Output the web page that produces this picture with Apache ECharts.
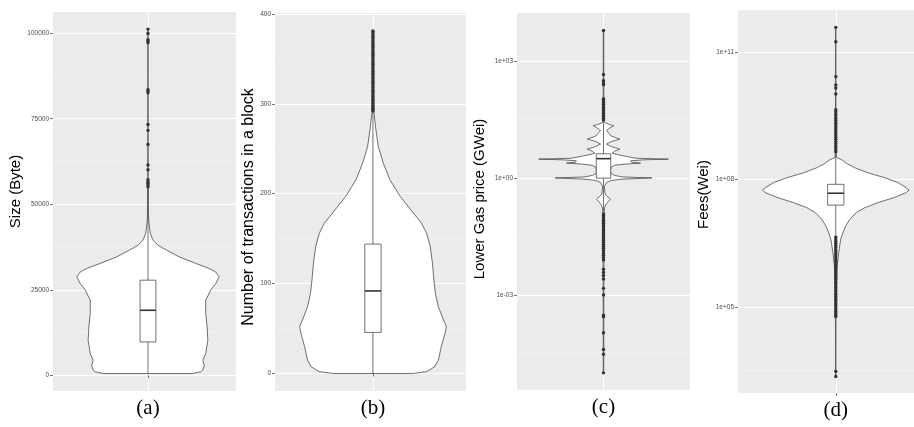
<!DOCTYPE html>
<html>
<head>
<meta charset="utf-8">
<script src="https://cdn.jsdelivr.net/npm/echarts@6/dist/echarts.min.js"></script>
<style>
  html, body { margin: 0; background: #fff; }
  #chart { width: 914px; height: 427px; }
</style>
</head>
<body>
<div id="chart"></div>
<script>
// (a) block size, bytes. violin profile = [value, relative half width]
const sizeViolin = [[500,0.62],[1000,0.74],[1500,0.77],[2900,0.79],[4400,0.77],[6300,0.81],[10200,0.84],[14100,0.83],[18100,0.81],[21900,0.81],[24900,0.88],[26800,0.95],[28800,1.0],[30200,0.95],[31200,0.86],[32700,0.67],[34600,0.44],[36600,0.26],[38000,0.14],[39500,0.07],[41500,0.032],[44400,0.014],[47300,0.005],[55000,0.002],[101200,0.001]]
// [lower whisker, q1, median, q3, upper whisker]
const sizeBox = [500, 9750, 19000, 27800, 54800]
const sizeOutliers = [55100, 55600, 56100, 56600, 57200, 60100, 61500, 67500, 71600, 73300, 82600, 83100, 83500, 97200, 97800, 98100, 99900, 101200]
const sizeTicks = [0, 25000, 50000, 75000, 100000]
const sizeMinor = [12500, 37500, 62500, 87500]

// (b) transactions per block
const txViolin = [[0,0.54],[2,0.73],[7.4,0.84],[14.8,0.89],[29.7,0.93],[44.6,0.98],[52,1.0],[59.5,0.96],[74.3,0.89],[89.2,0.85],[104,0.83],[122.7,0.81],[141.2,0.78],[156,0.73],[167.3,0.66],[178.5,0.55],[197,0.37],[215.6,0.23],[234.2,0.14],[252.8,0.072],[271.4,0.04],[290,0.014],[320,0.004],[381,0.001]]
const txBox = [0, 45.7, 91.8, 143.9, 291]
const txOutliers = [292,294,296,298,300,302,304,306,308,310,312,314,316,318,320,322,324,326,328,330,332,334,336,338,340,342,344,346,348,350,352,354,356,358,360,362,364,366,368,370,372,374,376,378,380,381]
const txTicks = [0, 100, 200, 300, 400]
const txMinor = [50, 150, 250, 350]

// (c) lower gas price, log10(GWei)
const gasViolin = [[-5.0,0.003],[-3.0,0.005],[-1.5,0.008],[-0.9,0.012],[-0.77,0.015],[-0.68,0.035],[-0.6,0.075],[-0.54,0.107],[-0.48,0.065],[-0.42,0.03],[-0.36,0.02],[-0.21,0.015],[-0.11,0.046],[-0.06,0.12],[-0.025,0.3],[0.005,0.745],[0.03,0.3],[0.07,0.17],[0.12,0.115],[0.21,0.107],[0.28,0.12],[0.33,0.17],[0.36,0.33],[0.385,0.57],[0.41,0.43],[0.445,0.42],[0.47,0.62],[0.488,1.0],[0.51,0.5],[0.555,0.36],[0.6,0.22],[0.64,0.133],[0.69,0.17],[0.745,0.25],[0.81,0.12],[0.874,0.046],[0.94,0.12],[1.0,0.25],[1.08,0.12],[1.225,0.046],[1.29,0.1],[1.345,0.158],[1.39,0.07],[1.43,0.015],[1.55,0.008],[2.0,0.005],[3.79,0.003]]
const gasBox = [-0.85, 0, 0.5, 0.625, 1.45]
const gasOutliers = [1.5,1.54,1.58,1.62,1.66,1.7,1.74,1.78,1.82,1.86,1.9,1.94,1.98,2.02,2.04,2.4,2.44,2.5,2.66,3.79,
  -0.92,-0.96,-1.0,-1.04,-1.08,-1.12,-1.16,-1.2,-1.24,-1.28,-1.32,-1.36,-1.4,-1.45,-1.5,-1.55,-1.6,-1.65,-1.7,-1.75,-1.8,-1.86,-1.92,-1.98,-2.04,-2.1,
  -2.34,-2.42,-2.5,-2.59,-2.83,-3.0,-3.52,-3.56,-3.97,-4.4,-4.52,-5.0]
const gasTicks = [-3, 0, 3]
const gasMinor = [-4.5, -1.5, 1.5]

// (d) fees, log10(Wei)
const feeViolin = [[3.36,0.002],[4.8,0.004],[5.59,0.009],[5.98,0.02],[6.29,0.04],[6.6,0.068],[6.72,0.09],[6.91,0.135],[7.07,0.193],[7.23,0.284],[7.34,0.396],[7.46,0.577],[7.58,0.8],[7.695,0.96],[7.756,1.0],[7.81,0.96],[7.93,0.847],[8.047,0.666],[8.16,0.44],[8.28,0.26],[8.38,0.149],[8.46,0.09],[8.5,0.04],[8.52,0.012],[8.7,0.005],[9.6,0.003],[11.59,0.002]]
const feeBox = [6.7, 7.4, 7.68, 7.89, 8.62]
const feeOutliers = [8.66,8.7,8.75,8.8,8.85,8.9,8.95,9.0,9.05,9.1,9.15,9.2,9.25,9.3,9.35,9.4,9.45,9.5,9.55,9.6,9.65,10.02,10.16,10.23,10.43,11.25,11.59,
  6.65,6.6,6.55,6.5,6.45,6.4,6.35,6.3,6.25,6.2,6.15,6.1,6.05,6.0,5.95,5.9,5.85,5.8,5.75,5.7,5.65,5.6,5.55,5.5,5.45,5.4,5.35,5.3,5.25,5.2,5.15,5.1,5.05,5.0,4.95,4.9,4.85,4.8,4.77,3.48,3.36]
const feeTicks = [5, 8, 11]
const feeMinor = [3.5, 6.5, 9.5]

const plainFmt = v => String(v)
const sciFmt = v => '1e' + (v < 0 ? '-' : '+') + String(Math.abs(v)).padStart(2, '0')

const panels = [
  { title: 'Size (Byte)', tag: '(a)', grid: { left: 53, top: 12, width: 183, height: 379 }, xMax: 1.556, yMin: -4600, yMax: 106200,
    ticks: sizeTicks, minor: sizeMinor, violin: sizeViolin, box: sizeBox, out: sizeOutliers, gap: 26, fs: 15, pad: [0, 0, 0, 20], fmt: plainFmt },
  { title: 'Number of transactions in a block', tag: '(b)', grid: { left: 275, top: 13, width: 191, height: 378 }, xMax: 1.57, yMin: -19.5, yMax: 401,
    ticks: txTicks, minor: txMinor, violin: txViolin, box: txBox, out: txOutliers, gap: 13, fs: 16, pad: [0, 10, 0, 0], fmt: plainFmt },
  { title: 'Lower Gas price (GWei)', tag: '(c)', grid: { left: 517, top: 13, width: 173, height: 377 }, xMax: 1.6, yMin: -5.44, yMax: 4.24,
    ticks: gasTicks, minor: gasMinor, violin: gasViolin, box: gasBox, out: gasOutliers, gap: 30, fs: 15, pad: [0, 0, 0, 5], fmt: sciFmt },
  { title: 'Fees(Wei)', tag: '(d)', grid: { left: 738, top: 10, width: 176, height: 383 }, xMax: 1.48, yMin: 2.97, yMax: 12.0,
    ticks: feeTicks, minor: feeMinor, violin: feeViolin, box: feeBox, out: feeOutliers, gap: 22, fs: 15, pad: [0, 0, 0, 14], fmt: sciFmt }
]

const violinHalf = 0.45
const boxHalf = 0.05
const ink = '#333333'

function violinRender (profile) {
  return function (params, api) {
    const right = profile.map(p => api.coord([1 + p[1] * violinHalf, p[0]]))
    const left = profile.map(p => api.coord([1 - p[1] * violinHalf, p[0]])).reverse()
    return {
      type: 'polygon',
      shape: { points: right.concat(left) },
      style: { fill: '#fff', stroke: ink, lineWidth: 0.7 }
    }
  }
}

function boxRender (b) {
  return function (params, api) {
    const lw = api.coord([1, b[0]])
    const q1 = api.coord([1 - boxHalf, b[1]])
    const q3 = api.coord([1 + boxHalf, b[3]])
    const up = api.coord([1, b[4]])
    const mL = api.coord([1 - boxHalf, b[2]])
    const mR = api.coord([1 + boxHalf, b[2]])
    return {
      type: 'group',
      children: [
        { type: 'line', shape: { x1: lw[0], y1: lw[1], x2: lw[0], y2: q1[1] }, style: { stroke: ink, lineWidth: 0.7 } },
        { type: 'line', shape: { x1: up[0], y1: up[1], x2: up[0], y2: q3[1] }, style: { stroke: ink, lineWidth: 0.7 } },
        { type: 'rect', shape: { x: q1[0], y: q3[1], width: q3[0] - q1[0], height: q1[1] - q3[1] }, style: { fill: '#fff', stroke: ink, lineWidth: 0.7 } },
        { type: 'line', shape: { x1: mL[0], y1: mL[1], x2: mR[0], y2: mR[1] }, style: { stroke: ink, lineWidth: 1.6 } }
      ]
    }
  }
}

const grid = [], xAxis = [], yAxis = [], series = []
panels.forEach((p, i) => {
  grid.push(Object.assign({ show: true, backgroundColor: '#EBEBEB', borderWidth: 0 }, p.grid))
  xAxis.push({
    type: 'value', gridIndex: i, min: 0.4, max: p.xMax,
    axisLine: { show: false },
    axisTick: { show: true, length: 3, customValues: [1], lineStyle: { color: ink, width: 0.7 } },
    axisLabel: { customValues: [1], formatter: () => p.tag, margin: 7, color: '#000', fontSize: 21, fontFamily: 'Liberation Serif' },
    splitLine: { show: true, lineStyle: { color: '#fff', width: 1 } }
  })
  yAxis.push({
    type: 'value', gridIndex: i, min: p.yMin, max: p.yMax,
    name: p.title, nameLocation: 'middle', nameGap: p.gap,
    nameTextStyle: { color: '#000', fontSize: p.fs, fontFamily: 'Liberation Sans', padding: p.pad },
    axisLine: { show: false },
    axisTick: { show: true, length: 3, customValues: p.ticks, lineStyle: { color: ink, width: 0.7 } },
    axisLabel: { customValues: p.ticks, formatter: p.fmt, margin: 4, color: '#4D4D4D', fontSize: 6.5, fontFamily: 'Liberation Sans' },
    splitLine: { show: true, lineStyle: { color: '#fff', width: 1 } }
  })
  yAxis.push({
    type: 'value', gridIndex: i, min: p.yMin, max: p.yMax, position: 'left',
    axisLine: { show: false },
    axisTick: { show: false, customValues: p.minor },
    axisLabel: { show: false },
    splitLine: { show: true, lineStyle: { color: '#F5F5F5', width: 0.6 } }
  })
  series.push({
    type: 'custom', xAxisIndex: i, yAxisIndex: 2 * i, data: [[1, p.violin[0][0]]],
    renderItem: violinRender(p.violin), silent: true, z: 2
  })
  series.push({
    type: 'custom', xAxisIndex: i, yAxisIndex: 2 * i, data: [[1, p.box[2]]],
    renderItem: boxRender(p.box), silent: true, z: 3
  })
  series.push({
    type: 'scatter', xAxisIndex: i, yAxisIndex: 2 * i,
    data: p.out.map(v => [1, v]),
    symbolSize: 3.4, itemStyle: { color: ink, opacity: 1 }, z: 4
  })
})

const chart = echarts.init(document.getElementById('chart'))
chart.setOption({
  animation: false,
  backgroundColor: '#fff',
  grid, xAxis, yAxis, series
})
</script>
</body>
</html>
